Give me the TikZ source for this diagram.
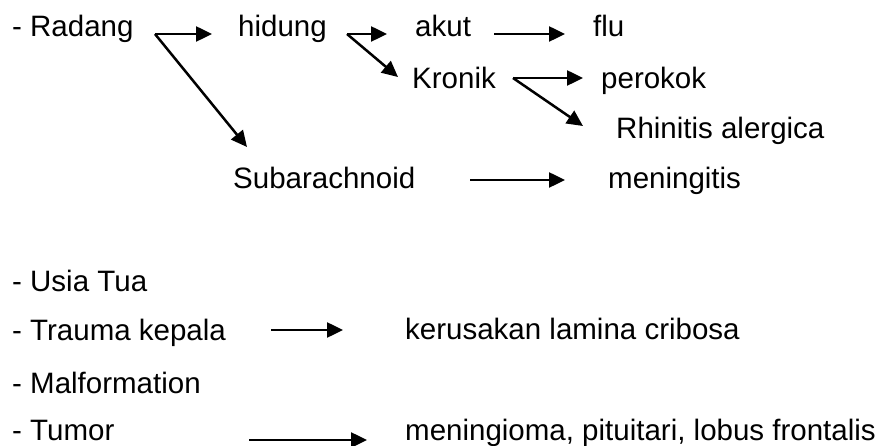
\documentclass[tikz,border=0pt]{standalone}
\usepackage{fontspec}
\setmainfont{Liberation Sans}
\usetikzlibrary{arrows.meta}
\tikzset{
  lbl/.style={anchor=base west,inner sep=0pt,font=\fontsize{29.5}{34}\selectfont},
  arr/.style={-{Triangle[length=16pt,width=15pt]},line width=2.5pt}
}

\begin{document}
\begin{tikzpicture}[x=1pt,y=-1pt]
\useasboundingbox (0,0) rectangle (878,446);

% Radang and its branches
\node[lbl] (radang) at (12,37) {- Radang};
\node[lbl] (hidung) at (238,37) {hidung};
\node[lbl] (akut) at (415,37) {akut};
\node[lbl] (flu) at (593,37) {flu};
\node[lbl] (kronik) at (412,89) {Kronik};
\node[lbl] (perokok) at (601,89) {perokok};
\node[lbl] (rhinitis) at (616,139) {Rhinitis alergica};
\node[lbl] (subarach) at (233,189) {Subarachnoid};
\node[lbl] (meningitis) at (608,189) {meningitis};

% Other causes
\node[lbl] (usia) at (12,291) {- Usia Tua};
\node[lbl] (trauma) at (12,340) {- Trauma kepala};
\node[lbl] (kerusakan) at (405,339) {kerusakan lamina cribosa};
\node[lbl] (malform) at (12,393) {- Malformation};
\node[lbl] (tumor) at (12,440) {- Tumor};
\node[lbl] (meningioma) at (405,440) {meningioma, pituitari, lobus frontalis};

% Fork points and arrow ends
\coordinate (rfork) at (155,34);
\coordinate (hfork) at (347,34);
\coordinate (kfork) at (513,78);
\coordinate (toHidung) at (212,34);
\coordinate (toSub) at (247,147);
\coordinate (toAkut) at (387,34);
\coordinate (toKronik) at (398,77);
\coordinate (akutEnd) at (494,34);
\coordinate (toFlu) at (565,34);
\coordinate (toPerokok) at (583,78);
\coordinate (toRhinitis) at (583,126);
\coordinate (subEnd) at (470,180);
\coordinate (toMeningitis) at (565,180);
\coordinate (traumaEnd) at (271,330);
\coordinate (toKerusakan) at (343,330);
\coordinate (tumorEnd) at (249,440);
\coordinate (toMeningioma) at (367,440);

% Arrows
\draw[arr] (rfork) -- (toHidung);
\draw[arr] (rfork) -- (toSub);
\draw[arr] (hfork) -- (toAkut);
\draw[arr] (hfork) -- (toKronik);
\draw[arr] (akutEnd) -- (toFlu);
\draw[arr] (kfork) -- (toPerokok);
\draw[arr] (kfork) -- (toRhinitis);
\draw[arr] (subEnd) -- (toMeningitis);
\draw[arr] (traumaEnd) -- (toKerusakan);
\draw[arr] (tumorEnd) -- (toMeningioma);

\end{tikzpicture}
\end{document}
